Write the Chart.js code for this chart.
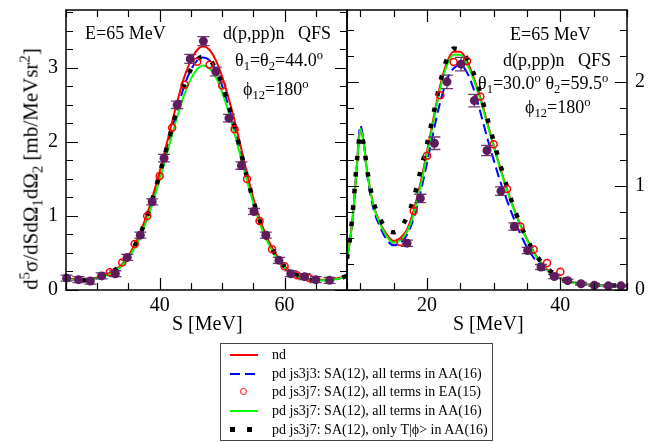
<!DOCTYPE html>
<html>
<head>
<meta charset="utf-8">
<script src="https://cdn.jsdelivr.net/npm/chart.js@4.4.0/dist/chart.umd.min.js"></script>
<style>
  html, body { margin: 0; padding: 0; background: #fff; }
  body { width: 672px; height: 442px; position: relative; overflow: hidden;
         font-family: "Liberation Serif", "Times New Roman", serif; color: #000; }
  canvas { position: absolute; }
  #leftChart { left: 0; top: -10px; }
  #rightChart { left: 330px; top: -10px; }
  .txt { position: absolute; white-space: nowrap; line-height: 1; }
  .note { font-size: 18px; }
  .axis { font-size: 20px; }
  sub, sup { font-size: 70%; line-height: 0; position: relative; vertical-align: baseline; }
  sub { top: 0.35em; }
  sup { top: -0.55em; }
  #ytitle { left: 31px; top: 169px; font-size: 21px; transform: translate(-50%, -50%) rotate(-90deg); }
  #legend { position: absolute; left: 220px; top: 343px; width: 273px; height: 98px;
            box-sizing: border-box; border: 1px solid #444; background: #fff; font-size: 14px; }
  #legend .row { position: absolute; left: 0; width: 100%; height: 18px; line-height: 18px; }
  #legend .row span.lbl { position: absolute; left: 51px; top: 0; white-space: nowrap; }
  .sample { position: absolute; left: 9px; width: 28px; }
  .s-red { top: 8px; height: 2px; background: #f00; }
  .s-green { top: 8px; height: 2px; background: #0f0; }
  .s-blue { top: 8px; height: 2px; background: repeating-linear-gradient(to right, #00f 0 10px, transparent 10px 15px); }
  .s-circ { left: 19px; top: 5px; width: 5px; height: 5px; border: 1.5px solid #f00; border-radius: 50%; }
  .s-sq { top: 6px; height: 5px; background: repeating-linear-gradient(to right, #000 0 5px, transparent 5px 17px); }
</style>
</head>
<body>
<canvas id="leftChart" width="360" height="350"></canvas>
<canvas id="rightChart" width="342" height="350"></canvas>

<div class="txt axis" id="ytitle">d<sup>5</sup>σ/dSdΩ<sub>1</sub>dΩ<sub>2</sub> [mb/MeVsr<sup>2</sup>]</div>
<div class="txt axis" style="left:172px; top:313px;">S [MeV]</div>
<div class="txt axis" style="left:453px; top:313px;">S [MeV]</div>

<div class="txt note" style="left:85px; top:24px;">E=65 MeV</div>
<div class="txt note" style="left:223px; top:24px;">d(p,pp)n &nbsp; QFS</div>
<div class="txt note" style="left:235px; top:51px;">θ<sub>1</sub>=θ<sub>2</sub>=44.0<sup>o</sup></div>
<div class="txt note" style="left:243px; top:80px;">ϕ<sub>12</sub>=180<sup>o</sup></div>

<div class="txt note" style="left:510px; top:25px;">E=65 MeV</div>
<div class="txt note" style="left:503px; top:51px;">d(p,pp)n &nbsp; QFS</div>
<div class="txt note" style="left:478px; top:74px;">θ<sub>1</sub>=30.0<sup>o</sup> θ<sub>2</sub>=59.5<sup>o</sup></div>
<div class="txt note" style="left:525px; top:98px;">ϕ<sub>12</sub>=180<sup>o</sup></div>

<div id="legend">
  <div class="row" style="top:2px;"><div class="sample s-red"></div><span class="lbl">nd</span></div>
  <div class="row" style="top:20.5px;"><div class="sample s-blue"></div><span class="lbl">pd js3j3: SA(12), all terms in AA(16)</span></div>
  <div class="row" style="top:39px;"><div class="sample s-circ"></div><span class="lbl">pd js3j7: SA(12), all terms in EA(15)</span></div>
  <div class="row" style="top:58px;"><div class="sample s-green"></div><span class="lbl">pd js3j7: SA(12), all terms in AA(16)</span></div>
  <div class="row" style="top:77px;"><div class="sample s-sq"></div><span class="lbl">pd js3j7: SA(12), only T|ϕ&gt; in AA(16)</span></div>
</div>

<script>
// ---- left panel: theta1 = theta2 = 44.0 deg ----
const sLeft = [25, 26, 27, 28, 29, 30, 31, 32, 33, 34, 35, 36, 37, 38, 39, 40, 41, 42, 43, 44, 45, 46, 47,
               48, 49, 50, 51, 52, 53, 54, 55, 56, 57, 58, 59, 60, 61, 62, 63, 64, 65, 66, 67, 68, 69, 70];
const ndLeft = [0.16, 0.15, 0.14, 0.14, 0.15, 0.17, 0.19, 0.23, 0.28, 0.35, 0.46, 0.61, 0.8, 1.03, 1.3, 1.6, 1.93, 2.27, 2.6, 2.89, 3.1, 3.24, 3.29,
                3.24, 3.1, 2.88, 2.6, 2.29, 1.93, 1.57, 1.24, 0.96, 0.75, 0.57, 0.43, 0.32, 0.25, 0.2, 0.17, 0.15, 0.14, 0.14, 0.14, 0.15, 0.17, 0.2];
const js3j3Left = [0.15, 0.14, 0.13, 0.13, 0.14, 0.16, 0.19, 0.22, 0.27, 0.34, 0.45, 0.59, 0.77, 0.99, 1.25, 1.55, 1.86, 2.18, 2.49, 2.77, 2.97, 3.1, 3.14,
                   3.1, 2.97, 2.76, 2.49, 2.19, 1.85, 1.51, 1.2, 0.93, 0.72, 0.55, 0.41, 0.31, 0.24, 0.19, 0.16, 0.14, 0.13, 0.13, 0.13, 0.14, 0.16, 0.19];
const aa16Left = [0.15, 0.14, 0.13, 0.13, 0.14, 0.16, 0.18, 0.21, 0.26, 0.33, 0.43, 0.57, 0.74, 0.96, 1.21, 1.49, 1.79, 2.1, 2.39, 2.65, 2.85, 2.98, 3.03,
                  2.99, 2.87, 2.67, 2.41, 2.11, 1.79, 1.47, 1.17, 0.91, 0.7, 0.53, 0.4, 0.3, 0.23, 0.18, 0.15, 0.14, 0.13, 0.13, 0.13, 0.14, 0.16, 0.19];
const tphiLeft = [0.16, 0.14, 0.13, 0.13, 0.14, 0.16, 0.19, 0.23, 0.28, 0.35, 0.46, 0.6, 0.78, 1.0, 1.27, 1.57, 1.88, 2.2, 2.5, 2.78, 2.98, 3.11, 3.15,
                  3.11, 2.98, 2.77, 2.5, 2.2, 1.86, 1.52, 1.21, 0.94, 0.73, 0.56, 0.42, 0.32, 0.25, 0.2, 0.16, 0.14, 0.13, 0.13, 0.13, 0.14, 0.16, 0.19];
const sEaLeft = [32, 34, 36, 38, 40, 42, 44, 46, 48, 50, 52, 54, 56, 58, 60, 62, 64];
const ea15Left = [0.24, 0.37, 0.62, 1.0, 1.54, 2.19, 2.77, 3.08, 3.04, 2.76, 2.17, 1.5, 0.93, 0.55, 0.32, 0.2, 0.16];
const sExpLeft = [25.1, 27, 28.9, 30.7, 32.9, 34.8, 36.9, 38.8, 40.7, 42.8, 44.9, 47, 49, 51.1, 53.1, 55.1, 57, 59.1, 61, 63.2, 65, 67.2];
const expLeft = [0.16, 0.14, 0.12, 0.19, 0.22, 0.44, 0.74, 1.19, 1.78, 2.5, 3.12, 3.36, 2.95, 2.32, 1.68, 1.06, 0.74, 0.4, 0.22, 0.18, 0.14, 0.13];
const errLeft = [0.04, 0.04, 0.04, 0.04, 0.04, 0.04, 0.04, 0.04, 0.05, 0.05, 0.06, 0.06, 0.06, 0.05, 0.05, 0.04, 0.04, 0.04, 0.04, 0.04, 0.04, 0.04];

// ---- right panel: theta1 = 30.0, theta2 = 59.5 deg ----
const sRight = [8, 8.5, 9, 9.5, 10, 10.5, 11, 11.5, 12, 13, 14, 15, 16, 17, 18, 19, 20, 21, 22, 23, 24, 25, 26, 27, 28,
                29, 30, 31, 32, 33, 34, 35, 36, 37, 38, 39, 40, 41, 42, 43, 44, 45, 46, 47, 48, 49, 50];
const ndRight = [0.32, 0.5, 0.8, 1.2, 1.54, 1.42, 1.15, 0.96, 0.81, 0.64, 0.53, 0.47, 0.5, 0.58, 0.76, 1.02, 1.33, 1.66, 1.97, 2.19, 2.29, 2.29, 2.2, 2.04, 1.85,
                 1.62, 1.39, 1.17, 0.97, 0.79, 0.63, 0.49, 0.37, 0.27, 0.2, 0.15, 0.115, 0.09, 0.073, 0.062, 0.054, 0.049, 0.046, 0.044, 0.042, 0.041, 0.04];
const js3j3Right = [0.3, 0.5, 0.8, 1.22, 1.58, 1.42, 1.12, 0.92, 0.77, 0.6, 0.48, 0.43, 0.45, 0.53, 0.69, 0.93, 1.22, 1.53, 1.81, 2.02, 2.13, 2.16, 2.09, 1.93, 1.71,
                    1.47, 1.25, 1.04, 0.86, 0.69, 0.54, 0.41, 0.31, 0.23, 0.17, 0.125, 0.1, 0.08, 0.065, 0.055, 0.05, 0.046, 0.044, 0.042, 0.041, 0.04, 0.04];
const aa16Right = [0.32, 0.49, 0.8, 1.2, 1.55, 1.41, 1.14, 0.95, 0.8, 0.63, 0.51, 0.455, 0.48, 0.56, 0.73, 0.99, 1.3, 1.63, 1.94, 2.16, 2.26, 2.26, 2.17, 2.02, 1.83,
                   1.6, 1.38, 1.16, 0.96, 0.78, 0.62, 0.48, 0.36, 0.26, 0.19, 0.14, 0.11, 0.085, 0.07, 0.06, 0.052, 0.048, 0.045, 0.043, 0.042, 0.041, 0.04];
const tphiRight = [0.3, 0.52, 0.85, 1.25, 1.5, 1.4, 1.17, 0.98, 0.84, 0.68, 0.58, 0.555, 0.6, 0.7, 0.88, 1.14, 1.4, 1.7, 2.0, 2.22, 2.32, 2.3, 2.22, 2.08, 1.89,
                   1.66, 1.43, 1.2, 0.99, 0.8, 0.63, 0.49, 0.37, 0.28, 0.21, 0.16, 0.12, 0.092, 0.074, 0.063, 0.055, 0.05, 0.047, 0.045, 0.043, 0.042, 0.041];
const sEaRight = [16, 18, 20, 22, 24, 26, 28, 30, 32, 34, 36, 38, 40];
const ea15Right = [0.46, 0.76, 1.29, 1.87, 2.19, 2.2, 1.86, 1.4, 0.97, 0.61, 0.39, 0.26, 0.176];
const sExpRight = [17, 19, 21.1, 23, 25.1, 27.1, 29, 31.1, 33.1, 35.1, 37.1, 39.1, 41.1, 43.1, 45.1, 47.2, 49.1];
const expRight = [0.45, 0.88, 1.41, 2.0, 2.17, 1.82, 1.34, 0.95, 0.61, 0.38, 0.22, 0.13, 0.09, 0.06, 0.045, 0.04, 0.04];
const errRight = [0.03, 0.04, 0.06, 0.065, 0.065, 0.06, 0.05, 0.04, 0.035, 0.03, 0.025, 0.02, 0.015, 0.012, 0.01, 0.01, 0.01];

const FONT = 'Liberation Serif';
const PURPLE = '#5e1c5e';

const pts = (xs, ys) => xs.map((x, i) => ({ x: x, y: ys[i] }));
const expPts = (xs, ys, es) => xs.map((x, i) => ({ x: x, y: ys[i], err: es[i] }));

// frame with inward ticks on all four sides
const frameTicks = {
    id: 'frameTicks',
    afterDraw(chart, args, opts) {
        const { ctx, chartArea: a, scales: { x, y } } = chart;
        ctx.save();
        ctx.strokeStyle = '#000';
        ctx.lineWidth = 1.2;
        const isMajor = (v, m) => Math.abs(v / m - Math.round(v / m)) < 1e-6;
        ctx.beginPath();
        for (let k = Math.ceil(x.min / opts.xMinor - 1e-9); k * opts.xMinor <= x.max + 1e-9; k++) {
            const v = k * opts.xMinor;
            const px = Math.round(x.getPixelForValue(v)) + 0.5;
            const len = isMajor(v, opts.xMajor) ? 12 : 7;
            ctx.moveTo(px, a.bottom); ctx.lineTo(px, a.bottom - len);
            ctx.moveTo(px, a.top); ctx.lineTo(px, a.top + len);
        }
        for (let k = Math.ceil(y.min / opts.yMinor - 1e-9); k * opts.yMinor <= y.max + 1e-9; k++) {
            const v = k * opts.yMinor;
            const py = Math.round(y.getPixelForValue(v)) + 0.5;
            const len = isMajor(v, opts.yMajor) ? 12 : 7;
            ctx.moveTo(a.left, py); ctx.lineTo(a.left + len, py);
            ctx.moveTo(a.right, py); ctx.lineTo(a.right - len, py);
        }
        ctx.stroke();
        ctx.lineWidth = 1.5;
        ctx.strokeRect(a.left, a.top, a.right - a.left, a.bottom - a.top);
        ctx.restore();
    }
};

// error bars for the measured points (dataset 0), drawn just under the dots
const errorBars = {
    id: 'errorBars',
    beforeDatasetDraw(chart, args) {
        if (args.index !== 0) return;
        const { ctx, scales: { x, y } } = chart;
        const cap = 6;
        ctx.save();
        ctx.strokeStyle = '#6e3a6e';
        ctx.lineWidth = 1.3;
        ctx.beginPath();
        chart.data.datasets[0].data.forEach(p => {
            const px = x.getPixelForValue(p.x);
            const y0 = y.getPixelForValue(p.y - p.err);
            const y1 = y.getPixelForValue(p.y + p.err);
            ctx.moveTo(px, y0); ctx.lineTo(px, y1);
            ctx.moveTo(px - cap, y0); ctx.lineTo(px + cap, y0);
            ctx.moveTo(px - cap, y1); ctx.lineTo(px + cap, y1);
        });
        ctx.stroke();
        ctx.restore();
    }
};

function lineSet(data, color, width, dash) {
    return {
        data: data, showLine: true, pointRadius: 0, borderColor: color, borderWidth: width,
        borderDash: dash || [], borderCapStyle: 'butt', fill: false, cubicInterpolationMode: 'monotone'
    };
}

// first dataset is drawn on top, last one at the bottom
function makePanel(id, d, opt) {
    const datasets = [
        { data: expPts(d.sExp, d.exp, d.err), pointRadius: 4.5, pointBackgroundColor: PURPLE, pointBorderWidth: 0, clip: false },
        { data: pts(d.sEa, d.ea15), pointRadius: 3.5, pointBorderColor: '#f00', pointBackgroundColor: 'rgba(0,0,0,0)', pointBorderWidth: 1.5, clip: false },
        lineSet(pts(d.s, d.tphi), '#000', 4.5, [4.5, 12]),
        lineSet(pts(d.s, d.aa16), '#0f0', 2),
        lineSet(pts(d.s, d.nd), '#f00', 2),
        lineSet(pts(d.s, d.js3j3), '#00f', 2, [10, 5])
    ];
    return new Chart(document.getElementById(id), {
        type: 'scatter',
        data: { datasets: datasets },
        options: {
            responsive: false,
            animation: false,
            events: [],
            layout: { padding: opt.padding },
            plugins: { legend: { display: false }, tooltip: { enabled: false }, frameTicks: opt.ticks },
            scales: {
                x: {
                    type: 'linear', min: opt.xMin, max: opt.xMax,
                    grid: { display: false, drawTicks: false }, border: { display: false },
                    ticks: {
                        stepSize: 20, includeBounds: false, padding: 4, color: '#000',
                        font: { family: FONT, size: 20 },
                        callback: v => (v % 20 === 0 ? v : '')
                    },
                    afterFit: s => { s.height = 50; }
                },
                y: {
                    type: 'linear', position: opt.yPos, min: 0, max: opt.yMax,
                    grid: { display: false, drawTicks: false }, border: { display: false },
                    ticks: {
                        stepSize: 1, includeBounds: false, padding: 8, color: '#000',
                        font: { family: FONT, size: 20 }
                    },
                    afterFit: s => { s.width = opt.yWidth; }
                }
            }
        },
        plugins: [errorBars, frameTicks]
    });
}

makePanel('leftChart',
    { s: sLeft, nd: ndLeft, js3j3: js3j3Left, aa16: aa16Left, tphi: tphiLeft,
      sEa: sEaLeft, ea15: ea15Left, sExp: sExpLeft, exp: expLeft, err: errLeft },
    { xMin: 25, xMax: 70, yMax: 3.78, yPos: 'left', yWidth: 66,
      padding: { top: 20, right: 13, left: 0, bottom: 0 },
      ticks: { xMinor: 5, xMajor: 20, yMinor: 0.25, yMajor: 1 } });

makePanel('rightChart',
    { s: sRight, nd: ndRight, js3j3: js3j3Right, aa16: aa16Right, tphi: tphiRight,
      sEa: sEaRight, ea15: ea15Right, sExp: sExpRight, exp: expRight, err: errRight },
    { xMin: 8, xMax: 50, yMax: 2.69, yPos: 'right', yWidth: 45,
      padding: { top: 20, right: 0, left: 17, bottom: 0 },
      ticks: { xMinor: 5, xMajor: 20, yMinor: 0.25, yMajor: 1 } });
</script>
</body>
</html>
